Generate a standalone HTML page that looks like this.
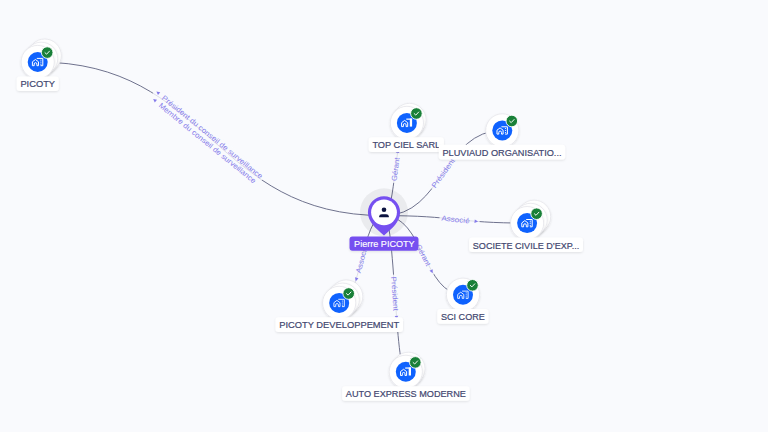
<!DOCTYPE html>
<html><head><meta charset="utf-8"><style>
html,body{margin:0;padding:0;width:768px;height:432px;overflow:hidden;background:#f9fafd;}
svg{display:block;font-family:"Liberation Sans",sans-serif;}
</style></head><body>
<svg width="768" height="432" viewBox="0 0 768 432">
<defs>
<filter id="sh" x="-30%" y="-30%" width="160%" height="160%"><feDropShadow dx="0" dy="1" stdDeviation="1" flood-color="#000" flood-opacity="0.12"/></filter>
<filter id="sh2" x="-20%" y="-50%" width="140%" height="200%"><feDropShadow dx="0" dy="1" stdDeviation="1.2" flood-color="#000" flood-opacity="0.10"/></filter>
</defs>
<rect width="768" height="432" fill="#f9fafd"/>
<g fill="none" stroke="#5f6280" stroke-width="0.9"><path d="M384.00 215.60 C210.85 215.60 210.85 62.00 37.70 62.00" /><path d="M384.00 215.60 C395.45 215.60 395.45 122.90 406.90 122.90" /><path d="M384.00 215.60 C443.15 215.60 443.15 130.40 502.30 130.40" /><path d="M384.00 215.60 C455.55 215.60 455.55 223.10 527.10 223.10" /><path d="M384.00 215.60 C361.60 215.60 361.60 302.90 339.20 302.90" /><path d="M384.00 215.60 C423.50 215.60 423.50 294.70 463.00 294.70" /><path d="M384.00 215.60 C394.90 215.60 394.90 371.80 405.80 371.80" /></g>
<g transform="translate(210.85 138.80) rotate(39.09)"><rect x="-73.60" y="-7.30" width="139.20" height="17.60" fill="#f9fafd" fill-opacity="0.8"/><path d="M-68.60 -4.20 L-72.10 -2.40 L-68.60 -0.60 Z" fill="#857bea"/><text x="-63.60" y="0.20" font-size="7.4" fill="#857bea" textLength="127.20" lengthAdjust="spacingAndGlyphs">Président du conseil de surveillance</text><path d="M-66.40 3.60 L-69.90 5.40 L-66.40 7.20 Z" fill="#857bea"/><text x="-61.40" y="8.00" font-size="7.4" fill="#857bea" textLength="122.80" lengthAdjust="spacingAndGlyphs">Membre du conseil de surveillance</text></g><g transform="translate(395.45 169.25) rotate(-82.82)"><rect x="-13.70" y="-4.90" width="35.40" height="9.80" fill="#f9fafd" fill-opacity="0.8"/><path d="M16.70 -1.80 L20.20 0.00 L16.70 1.80 Z" fill="#857bea"/><text x="-11.70" y="2.60" font-size="7.4" fill="#857bea" textLength="23.40" lengthAdjust="spacingAndGlyphs">Gérant</text></g><g transform="translate(443.15 173.00) rotate(-54.35)"><rect x="-19.15" y="-4.90" width="46.30" height="9.80" fill="#f9fafd" fill-opacity="0.8"/><path d="M22.15 -1.80 L25.65 0.00 L22.15 1.80 Z" fill="#857bea"/><text x="-17.15" y="2.60" font-size="7.4" fill="#857bea" textLength="34.30" lengthAdjust="spacingAndGlyphs">Président</text></g><g transform="translate(455.55 219.35) rotate(5.73)"><rect x="-16.15" y="-4.90" width="40.30" height="9.80" fill="#f9fafd" fill-opacity="0.8"/><path d="M19.15 -1.80 L22.65 0.00 L19.15 1.80 Z" fill="#857bea"/><text x="-14.15" y="2.60" font-size="7.4" fill="#857bea" textLength="28.30" lengthAdjust="spacingAndGlyphs">Associé</text></g><g transform="translate(361.60 259.25) rotate(284.81)"><rect x="-24.15" y="-4.90" width="40.30" height="9.80" fill="#f9fafd" fill-opacity="0.8"/><path d="M-19.15 -1.80 L-22.65 0.00 L-19.15 1.80 Z" fill="#857bea"/><text x="-14.15" y="2.60" font-size="7.4" fill="#857bea" textLength="28.30" lengthAdjust="spacingAndGlyphs">Associé</text></g><g transform="translate(423.50 255.15) rotate(62.98)"><rect x="-13.70" y="-4.90" width="35.40" height="9.80" fill="#f9fafd" fill-opacity="0.8"/><path d="M16.70 -1.80 L20.20 0.00 L16.70 1.80 Z" fill="#857bea"/><text x="-11.70" y="2.60" font-size="7.4" fill="#857bea" textLength="23.40" lengthAdjust="spacingAndGlyphs">Gérant</text></g><g transform="translate(394.90 293.70) rotate(85.95)"><rect x="-19.15" y="-4.90" width="46.30" height="9.80" fill="#f9fafd" fill-opacity="0.8"/><path d="M22.15 -1.80 L25.65 0.00 L22.15 1.80 Z" fill="#857bea"/><text x="-17.15" y="2.60" font-size="7.4" fill="#857bea" textLength="34.30" lengthAdjust="spacingAndGlyphs">Président</text></g>
<circle cx="44.70" cy="55.60" r="16.6" fill="#fff" stroke="#e3e3e8" stroke-width="0.7" filter="url(#sh)"/><circle cx="41.20" cy="58.80" r="16.6" fill="#fff" stroke="#e3e3e8" stroke-width="0.7" filter="url(#sh)"/><circle cx="37.70" cy="62.00" r="16.6" fill="#fff" stroke="#e3e3e8" stroke-width="0.7" filter="url(#sh)"/><circle cx="37.70" cy="62.00" r="10" fill="#0f62fe"/><g transform="translate(37.70 62.00)" fill="none" stroke="#fff" stroke-width="1" stroke-linejoin="miter"><path d="M-0.8 3.7 H0.8 V-0.2 L-2.25 -2.5 L-5.3 -0.2 V3.7 H-3.5 V2.0 A1.35 1.35 0 0 1 -0.8 2.0 Z"/><path d="M-0.9 -3.6 H5.1 V3.7 H2.8"/><g fill="#fff" stroke="none"><circle cx="3.2" cy="-1.9" r="0.6"/><circle cx="3.2" cy="0.1" r="0.6"/><circle cx="3.2" cy="2.2" r="0.6"/></g></g><circle cx="47.20" cy="52.60" r="5.8" fill="#198038" stroke="#fff" stroke-width="0.9"/><path d="M45.00 52.70 L46.60 54.20 L49.50 51.10" fill="none" stroke="#fff" stroke-width="0.95" stroke-linecap="round" stroke-linejoin="round"/><circle cx="409.50" cy="119.90" r="16.6" fill="#fff" stroke="#e3e3e8" stroke-width="0.7" filter="url(#sh)"/><circle cx="406.90" cy="122.90" r="16.6" fill="#fff" stroke="#e3e3e8" stroke-width="0.7" filter="url(#sh)"/><circle cx="406.90" cy="122.90" r="10" fill="#0f62fe"/><g transform="translate(406.90 122.90)" fill="none" stroke="#fff" stroke-width="1" stroke-linejoin="miter"><path d="M-0.8 3.7 H0.8 V-0.2 L-2.25 -2.5 L-5.3 -0.2 V3.7 H-3.5 V2.0 A1.35 1.35 0 0 1 -0.8 2.0 Z"/><path d="M-0.6 -3.75 H5.2" stroke-width="1.2"/><rect x="2.9" y="-4.3" width="2.3" height="8.0" fill="#fff" stroke="none"/></g><circle cx="416.40" cy="113.50" r="5.8" fill="#198038" stroke="#fff" stroke-width="0.9"/><path d="M414.20 113.60 L415.80 115.10 L418.70 112.00" fill="none" stroke="#fff" stroke-width="0.95" stroke-linecap="round" stroke-linejoin="round"/><circle cx="502.30" cy="130.40" r="16.6" fill="#fff" stroke="#e3e3e8" stroke-width="0.7" filter="url(#sh)"/><circle cx="502.30" cy="130.40" r="10" fill="#0f62fe"/><g transform="translate(502.30 130.40)" fill="none" stroke="#fff" stroke-width="1" stroke-linejoin="miter"><path d="M-0.8 3.7 H0.8 V-0.2 L-2.25 -2.5 L-5.3 -0.2 V3.7 H-3.5 V2.0 A1.35 1.35 0 0 1 -0.8 2.0 Z"/><path d="M-0.9 -3.6 H5.1 V3.7 H2.8"/><g fill="#fff" stroke="none"><circle cx="3.2" cy="-1.9" r="0.6"/><circle cx="3.2" cy="0.1" r="0.6"/><circle cx="3.2" cy="2.2" r="0.6"/></g></g><circle cx="511.80" cy="121.00" r="5.8" fill="#198038" stroke="#fff" stroke-width="0.9"/><path d="M509.60 121.10 L511.20 122.60 L514.10 119.50" fill="none" stroke="#fff" stroke-width="0.95" stroke-linecap="round" stroke-linejoin="round"/><circle cx="534.10" cy="216.70" r="16.6" fill="#fff" stroke="#e3e3e8" stroke-width="0.7" filter="url(#sh)"/><circle cx="530.60" cy="219.90" r="16.6" fill="#fff" stroke="#e3e3e8" stroke-width="0.7" filter="url(#sh)"/><circle cx="527.10" cy="223.10" r="16.6" fill="#fff" stroke="#e3e3e8" stroke-width="0.7" filter="url(#sh)"/><circle cx="527.10" cy="223.10" r="10" fill="#0f62fe"/><g transform="translate(527.10 223.10)" fill="none" stroke="#fff" stroke-width="1" stroke-linejoin="miter"><path d="M-0.8 3.7 H0.8 V-0.2 L-2.25 -2.5 L-5.3 -0.2 V3.7 H-3.5 V2.0 A1.35 1.35 0 0 1 -0.8 2.0 Z"/><path d="M-0.9 -3.6 H5.1 V3.7 H2.8"/><g fill="#fff" stroke="none"><circle cx="3.2" cy="-1.9" r="0.6"/><circle cx="3.2" cy="0.1" r="0.6"/><circle cx="3.2" cy="2.2" r="0.6"/></g></g><circle cx="536.60" cy="213.70" r="5.8" fill="#198038" stroke="#fff" stroke-width="0.9"/><path d="M534.40 213.80 L536.00 215.30 L538.90 212.20" fill="none" stroke="#fff" stroke-width="0.95" stroke-linecap="round" stroke-linejoin="round"/><circle cx="346.20" cy="296.50" r="16.6" fill="#fff" stroke="#e3e3e8" stroke-width="0.7" filter="url(#sh)"/><circle cx="342.70" cy="299.70" r="16.6" fill="#fff" stroke="#e3e3e8" stroke-width="0.7" filter="url(#sh)"/><circle cx="339.20" cy="302.90" r="16.6" fill="#fff" stroke="#e3e3e8" stroke-width="0.7" filter="url(#sh)"/><circle cx="339.20" cy="302.90" r="10" fill="#0f62fe"/><g transform="translate(339.20 302.90)" fill="none" stroke="#fff" stroke-width="1" stroke-linejoin="miter" opacity="0.85"><path d="M-0.8 3.7 H0.8 V-0.2 L-2.25 -2.5 L-5.3 -0.2 V3.7 H-3.5 V2.0 A1.35 1.35 0 0 1 -0.8 2.0 Z"/><path d="M-0.9 -3.6 H5.1 V3.7 H2.8"/><g fill="#fff" stroke="none"><circle cx="3.2" cy="-1.9" r="0.6"/><circle cx="3.2" cy="0.1" r="0.6"/><circle cx="3.2" cy="2.2" r="0.6"/></g></g><circle cx="348.70" cy="293.50" r="5.8" fill="#198038" stroke="#fff" stroke-width="0.9"/><path d="M346.50 293.60 L348.10 295.10 L351.00 292.00" fill="none" stroke="#fff" stroke-width="0.95" stroke-linecap="round" stroke-linejoin="round"/><circle cx="463.00" cy="294.70" r="16.6" fill="#fff" stroke="#e3e3e8" stroke-width="0.7" filter="url(#sh)"/><circle cx="463.00" cy="294.70" r="10" fill="#0f62fe"/><g transform="translate(463.00 294.70)" fill="none" stroke="#fff" stroke-width="1" stroke-linejoin="miter" opacity="0.85"><path d="M-0.8 3.7 H0.8 V-0.2 L-2.25 -2.5 L-5.3 -0.2 V3.7 H-3.5 V2.0 A1.35 1.35 0 0 1 -0.8 2.0 Z"/><path d="M-0.9 -3.6 H5.1 V3.7 H2.8"/><g fill="#fff" stroke="none"><circle cx="3.2" cy="-1.9" r="0.6"/><circle cx="3.2" cy="0.1" r="0.6"/><circle cx="3.2" cy="2.2" r="0.6"/></g></g><circle cx="472.50" cy="285.30" r="5.8" fill="#198038" stroke="#fff" stroke-width="0.9"/><path d="M470.30 285.40 L471.90 286.90 L474.80 283.80" fill="none" stroke="#fff" stroke-width="0.95" stroke-linecap="round" stroke-linejoin="round"/><circle cx="408.40" cy="368.80" r="16.6" fill="#fff" stroke="#e3e3e8" stroke-width="0.7" filter="url(#sh)"/><circle cx="405.80" cy="371.80" r="16.6" fill="#fff" stroke="#e3e3e8" stroke-width="0.7" filter="url(#sh)"/><circle cx="405.80" cy="371.80" r="10" fill="#0f62fe"/><g transform="translate(405.80 371.80)" fill="none" stroke="#fff" stroke-width="1" stroke-linejoin="miter"><path d="M-0.8 3.7 H0.8 V-0.2 L-2.25 -2.5 L-5.3 -0.2 V3.7 H-3.5 V2.0 A1.35 1.35 0 0 1 -0.8 2.0 Z"/><path d="M-0.6 -3.75 H5.2" stroke-width="1.2"/><rect x="2.9" y="-4.3" width="2.3" height="8.0" fill="#fff" stroke="none"/></g><circle cx="415.30" cy="362.40" r="5.8" fill="#198038" stroke="#fff" stroke-width="0.9"/><path d="M413.10 362.50 L414.70 364.00 L417.60 360.90" fill="none" stroke="#fff" stroke-width="0.95" stroke-linecap="round" stroke-linejoin="round"/>
<rect x="16.70" y="76.40" width="42.05" height="14.60" rx="3" fill="#fff" filter="url(#sh2)"/><text x="37.73" y="87.40" font-size="9.9" fill="#42476f" stroke="#42476f" stroke-width="0.22" text-anchor="middle" textLength="34.65" lengthAdjust="spacingAndGlyphs">PICOTY</text><rect x="368.70" y="137.30" width="75.20" height="14.60" rx="3" fill="#fff" filter="url(#sh2)"/><text x="406.30" y="148.30" font-size="9.9" fill="#42476f" stroke="#42476f" stroke-width="0.22" text-anchor="middle" textLength="67.80" lengthAdjust="spacingAndGlyphs">TOP CIEL SARL</text><rect x="438.80" y="144.80" width="126.40" height="14.60" rx="3" fill="#fff" filter="url(#sh2)"/><text x="502.00" y="155.80" font-size="9.9" fill="#42476f" stroke="#42476f" stroke-width="0.22" text-anchor="middle" textLength="119.00" lengthAdjust="spacingAndGlyphs">PLUVIAUD ORGANISATIO...</text><rect x="469.10" y="237.50" width="113.90" height="14.60" rx="3" fill="#fff" filter="url(#sh2)"/><text x="526.05" y="248.50" font-size="9.9" fill="#42476f" stroke="#42476f" stroke-width="0.22" text-anchor="middle" textLength="106.50" lengthAdjust="spacingAndGlyphs">SOCIETE CIVILE D’EXP...</text><rect x="275.50" y="317.30" width="127.50" height="14.60" rx="3" fill="#fff" filter="url(#sh2)"/><text x="339.25" y="328.30" font-size="9.9" fill="#42476f" stroke="#42476f" stroke-width="0.22" text-anchor="middle" textLength="120.10" lengthAdjust="spacingAndGlyphs">PICOTY DEVELOPPEMENT</text><rect x="437.30" y="309.10" width="51.20" height="14.60" rx="3" fill="#fff" filter="url(#sh2)"/><text x="462.90" y="320.10" font-size="9.9" fill="#42476f" stroke="#42476f" stroke-width="0.22" text-anchor="middle" textLength="43.80" lengthAdjust="spacingAndGlyphs">SCI CORE</text><rect x="342.15" y="386.20" width="127.45" height="14.60" rx="3" fill="#fff" filter="url(#sh2)"/><text x="405.88" y="397.20" font-size="9.9" fill="#42476f" stroke="#42476f" stroke-width="0.22" text-anchor="middle" textLength="120.05" lengthAdjust="spacingAndGlyphs">AUTO EXPRESS MODERNE</text>
<circle cx="384.0" cy="212.3" r="24" fill="#000" fill-opacity="0.06"/><path d="M367.9 212.3 A16.1 16.1 0 0 1 400.1 212.3 C400.1 221.8 392.5 228.3 384.0 235.5 C375.5 228.3 367.9 221.8 367.9 212.3 Z" fill="#7650f0"/><circle cx="384.0" cy="212.3" r="12.9" fill="#fff"/><circle cx="384.0" cy="209.70000000000002" r="2.3" fill="#0d1440"/><path d="M379.2 217.3 V216.20000000000002 Q379.2 214.20000000000002 381.8 214.20000000000002 H386.2 Q388.8 214.20000000000002 388.8 216.20000000000002 V217.3 Z" fill="#0d1440"/><rect x="349.5" y="236.5" width="69" height="14.2" rx="3" fill="#7650f0" filter="url(#sh2)"/><text x="384.4" y="246.9" font-size="9.6" fill="#fff" stroke="#fff" stroke-width="0.15" text-anchor="middle" textLength="60.6" lengthAdjust="spacingAndGlyphs">Pierre PICOTY</text>
</svg>
</body></html>
